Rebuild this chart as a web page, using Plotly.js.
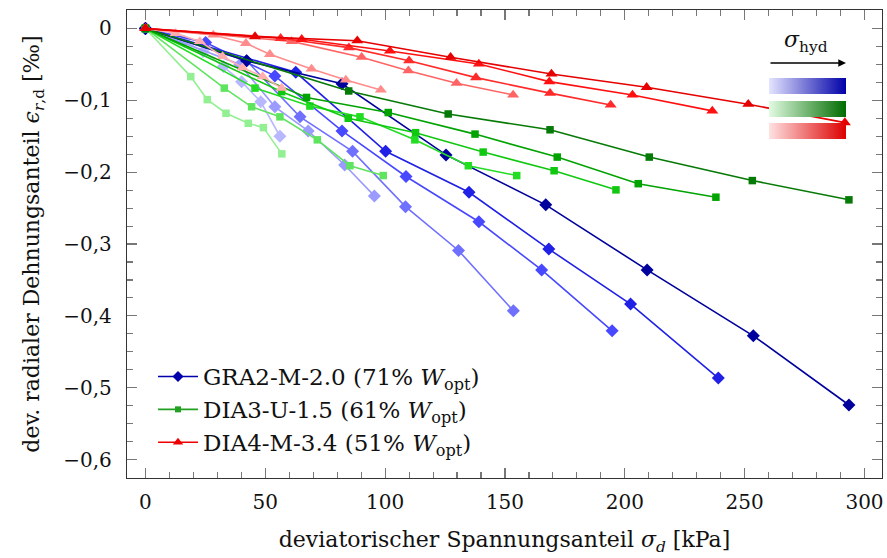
<!DOCTYPE html>
<html>
<head>
<meta charset="utf-8">
<script src="https://cdn.plot.ly/plotly-3.0.1.min.js"></script>
<style>html,body{margin:0;padding:0;background:#fff;}#chart{width:887px;height:558px;}</style>
</head>
<body>
<div id="chart"></div>
<script>
// ---- GRA2-M-2.0 (blue), light -> dark = increasing sigma_hyd
const graX1 = [0, 16.2, 24.1, 32.5, 40.1, 48.1, 56.1];
const graY1 = [0, -0.018, -0.032, -0.053, -0.074, -0.102, -0.150];
const graX2 = [0, 39.4, 54, 67.9, 83.1, 95.5];
const graY2 = [0, -0.05, -0.109, -0.1426, -0.19, -0.233];
const graX3 = [0, 42.2, 64.5, 86.4, 108.5, 130.6, 153.5];
const graY3 = [0, -0.045, -0.123, -0.171, -0.248, -0.309, -0.393];
const graX4 = [0, 25.1, 54, 82, 108.7, 139.1, 165.3, 194.7];
const graY4 = [0, -0.0197, -0.066, -0.1426, -0.206, -0.269, -0.336, -0.4207];
const graX5 = [0, 62.7, 100.2, 135, 168.3, 202.4, 239];
const graY5 = [0, -0.061, -0.171, -0.228, -0.307, -0.3836, -0.4865];
const graX6 = [0, 42.2, 82, 125.4, 167, 209.3, 253.6, 293.5];
const graY6 = [0, -0.045, -0.077, -0.176, -0.2455, -0.336, -0.4277, -0.524];

// ---- DIA3-U-1.5 (green)
const dia3X1 = [0, 18.9, 25.8, 33.6, 42.9, 49.2, 56.9];
const dia3Y1 = [0, -0.067, -0.099, -0.118, -0.132, -0.138, -0.1745];
const dia3X2 = [0, 32.9, 44.3, 56.1, 71.7, 85.3, 99.2];
const dia3Y2 = [0, -0.083, -0.109, -0.123, -0.155, -0.191, -0.2047];
const dia3X3 = [0, 45.7, 68.6, 89.5, 112.4, 134.7, 154.9];
const dia3Y3 = [0, -0.083, -0.108, -0.123, -0.155, -0.191, -0.2047];
const dia3X4 = [0, 56.8, 84.6, 112.7, 140.9, 170.5, 196.3];
const dia3Y4 = [0, -0.088, -0.125, -0.145, -0.172, -0.198, -0.2246];
const dia3X5 = [0, 67.2, 101.3, 137.5, 171.8, 205.6, 238];
const dia3Y5 = [0, -0.096, -0.117, -0.147, -0.179, -0.216, -0.2348];
const dia3X6 = [0, 84.8, 126.3, 168.8, 210.2, 253.2, 293.5];
const dia3Y6 = [0, -0.087, -0.119, -0.141, -0.179, -0.2117, -0.2385];

// ---- DIA4-M-3.4 (red)
const dia4X1 = [0, 12.6, 22.7, 32.2, 40.5, 48.9, 56.8];
const dia4Y1 = [0, -0.0067, -0.018, -0.039, -0.0545, -0.067, -0.083];
const dia4X2 = [0, 28.3, 41.9, 51.9, 69.3, 83.6, 98.2];
const dia4Y2 = [0, -0.009, -0.0206, -0.036, -0.0563, -0.0716, -0.0855];
const dia4X3 = [0, 61, 90.2, 109.7, 129.8, 153.4];
const dia4Y3 = [0, -0.018, -0.040, -0.0587, -0.0762, -0.0925];
const dia4X4 = [0, 56.4, 84.9, 110, 137.9, 168.8, 194.1];
const dia4Y4 = [0, -0.0137, -0.0267, -0.0448, -0.0684, -0.090, -0.1064];
const dia4X5 = [0, 65.2, 102, 139.1, 168.5, 203.2, 236.5];
const dia4Y5 = [0, -0.015, -0.0313, -0.0494, -0.074, -0.0925, -0.1147];
const dia4X6 = [0, 45.7, 88.4, 127.3, 169.4, 209.1, 251.5, 291.8];
const dia4Y6 = [0, -0.0113, -0.017, -0.040, -0.0633, -0.0818, -0.1054, -0.131];

const legendNames = [
  'GRA2-M-2.0 (71% <i>W</i><sub>opt</sub>)',
  'DIA3-U-1.5 (61% <i>W</i><sub>opt</sub>)',
  'DIA4-M-3.4 (51% <i>W</i><sub>opt</sub>)'
];

const blueShades = ['#b8b8ff', '#9a9aff', '#7070ff', '#4848ff', '#2020e6', '#00009c'];
const greenShades = ['#92f092', '#5fe45f', '#22dd22', '#10c810', '#00a300', '#067a06'];
const redShades = ['#ffadad', '#ff8c8c', '#ff6464', '#ff2a2a', '#ff1010', '#e60000'];

const groups = [
  {xs: [graX1, graX2, graX3, graX4, graX5, graX6], ys: [graY1, graY2, graY3, graY4, graY5, graY6], colors: blueShades, symbol: 'diamond', size: 10},
  {xs: [dia3X1, dia3X2, dia3X3, dia3X4, dia3X5, dia3X6], ys: [dia3Y1, dia3Y2, dia3Y3, dia3Y4, dia3Y5, dia3Y6], colors: greenShades, symbol: 'square', size: 7.5},
  {xs: [dia4X1, dia4X2, dia4X3, dia4X4, dia4X5, dia4X6], ys: [dia4Y1, dia4Y2, dia4Y3, dia4Y4, dia4Y5, dia4Y6], colors: redShades, symbol: 'triangle-up', size: 10.5}
];

const traces = [];
groups.forEach(g => {
  g.xs.forEach((xv, i) => {
    traces.push({
      type: 'scatter', mode: 'lines+markers', x: xv, y: g.ys[i],
      line: {color: g.colors[i], width: 1.6},
      marker: {symbol: g.symbol, size: g.size, color: g.colors[i]},
      showlegend: false, hoverinfo: 'skip'
    });
  });
});
const legendColors = ['#0000aa', '#22a022', '#ee0000'];
groups.forEach((g, i) => {
  traces.push({
    type: 'scatter', mode: 'lines+markers', x: [null], y: [null], name: legendNames[i],
    line: {color: legendColors[i], width: 1.6},
    marker: {symbol: g.symbol, size: g.size - 1.5, color: legendColors[i]},
    showlegend: true
  });
});

function grad(c0, c1) {
  const svg = '<svg xmlns="http://www.w3.org/2000/svg" width="100" height="20" viewBox="0 0 100 20" preserveAspectRatio="none">' +
    '<defs><linearGradient id="g" x1="0" y1="0" x2="1" y2="0"><stop offset="0" stop-color="' + c0 + '"/><stop offset="1" stop-color="' + c1 + '"/></linearGradient></defs>' +
    '<rect x="0" y="0" width="100" height="20" fill="url(#g)"/></svg>';
  return 'data:image/svg+xml;charset=utf-8,' + encodeURIComponent(svg);
}

const L = 127, R = 882, T = 10, B = 478, W = R - L, H = B - T;
const px = v => (v - L) / W;
const py = v => (B - v) / H;

const font = 'DejaVu Serif, Liberation Serif, serif';
const axisCommon = {
  showline: true, linecolor: '#333', linewidth: 1.2, mirror: 'allticks',
  ticks: 'inside', ticklen: 10, tickcolor: '#777', tickwidth: 1.2,
  showgrid: false, zeroline: false,
  tickfont: {family: font, size: 20, color: '#111'}
};

const layout = {
  width: 887, height: 558,
  margin: {l: L, r: 887 - R, t: T, b: 558 - B},
  paper_bgcolor: '#fff', plot_bgcolor: '#fff',
  separators: ', ',
  font: {family: font, color: '#111'},
  xaxis: Object.assign({}, axisCommon, {
    range: [-7.7, 307.3], tick0: 0, dtick: 50,
    minor: {dtick: 10, ticks: 'inside', ticklen: 6, tickcolor: '#777', tickwidth: 1.1},
    ticklabelstandoff: 6,
    title: {text: 'deviatorischer Spannungsanteil <i>σ</i><sub><i>d</i></sub> [kPa]', font: {family: font, size: 22, color: '#111'}, standoff: 18}
  }),
  yaxis: Object.assign({}, axisCommon, {
    range: [-0.6256, 0.0257], tick0: 0, dtick: 0.1,
    minor: {dtick: 0.025, ticks: 'inside', ticklen: 6, tickcolor: '#777', tickwidth: 1.1},
    ticklabelstandoff: 10,
    title: {text: 'dev. radialer Dehnungsanteil <i>ϵ</i><sub><i>r</i>,d</sub> [‰]', font: {family: font, size: 22, color: '#111'}, standoff: 17}
  }),
  legend: {
    x: px(153), y: py(355), xanchor: 'left', yanchor: 'top',
    bgcolor: 'rgba(255,255,255,0)', borderwidth: 0,
    font: {family: font, size: 23, color: '#111'},
    tracegroupgap: 0, itemwidth: 40
  },
  annotations: [
    {xref: 'paper', yref: 'paper', x: px(806), y: py(42), text: '<i>σ</i><sub>hyd</sub>', showarrow: false,
     font: {family: font, size: 22, color: '#111'}, xanchor: 'center', yanchor: 'middle'},
    {xref: 'paper', yref: 'paper', x: px(846), y: py(63), text: '', showarrow: true,
     ax: -77, ay: 0, arrowhead: 2, arrowsize: 1.1, arrowwidth: 1.4, arrowcolor: '#000'}
  ],
  images: [
    {source: grad('#e4e4ff', '#0000a8'), xref: 'paper', yref: 'paper', x: px(769), y: py(78), sizex: 77 / W, sizey: 16 / H, sizing: 'stretch', xanchor: 'left', yanchor: 'top', layer: 'above'},
    {source: grad('#e2fbe2', '#006c00'), xref: 'paper', yref: 'paper', x: px(769), y: py(101), sizex: 77 / W, sizey: 16 / H, sizing: 'stretch', xanchor: 'left', yanchor: 'top', layer: 'above'},
    {source: grad('#ffe2e2', '#dd0000'), xref: 'paper', yref: 'paper', x: px(769), y: py(123), sizex: 77 / W, sizey: 16 / H, sizing: 'stretch', xanchor: 'left', yanchor: 'top', layer: 'above'}
  ]
};

Plotly.newPlot('chart', traces, layout, {displayModeBar: false, staticPlot: true});
</script>
</body>
</html>
